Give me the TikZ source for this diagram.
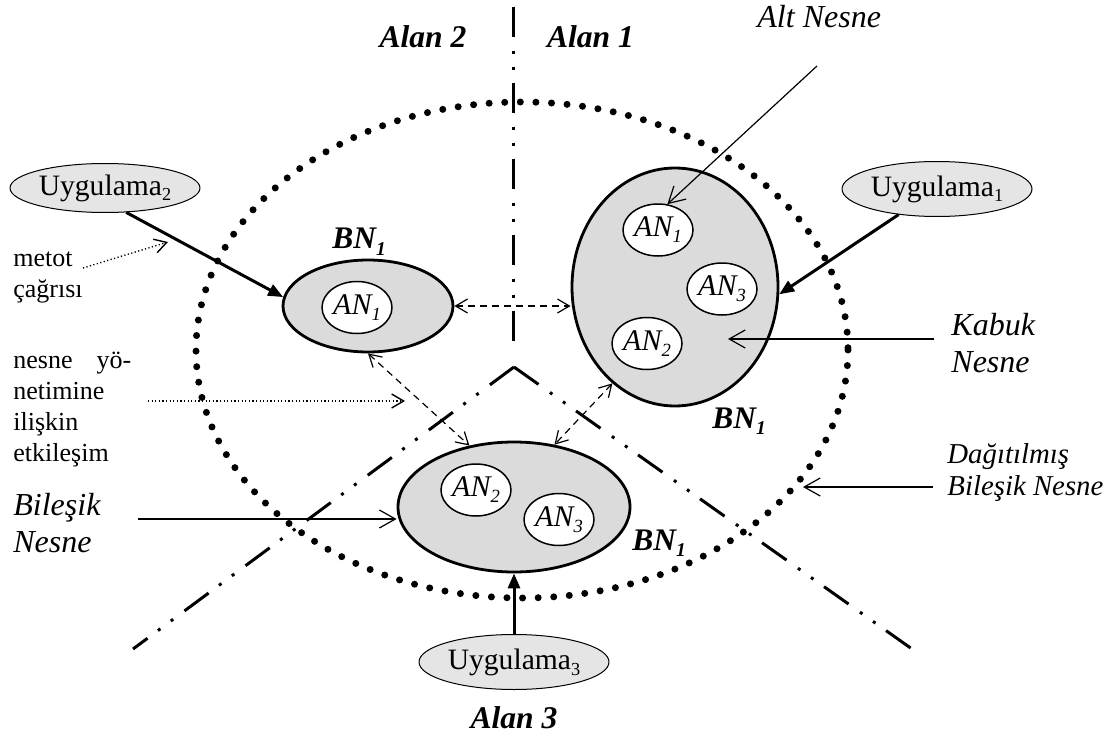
\documentclass[tikz,border=0pt]{standalone}
\usepackage{fontspec}
\setmainfont{Liberation Serif}
\usetikzlibrary{shapes.geometric,arrows.meta}
\definecolor{bngri}{gray}{0.86}
\definecolor{uyggri}{gray}{0.9}
\newcommand{\indis}[1]{\raisebox{-0.2em}{\scalebox{0.62}{#1}}}
\begin{document}
\begin{tikzpicture}[x=0.5pt,y=-0.5pt,line join=round]
	%%%%Stiller
	\tikzset{
		uygulama/.style={draw,ellipse,fill=uyggri,line width=0.5pt,inner sep=0pt,minimum width=95pt,font=\fontsize{14.8}{16}\selectfont},
		bilesik/.style={draw,ellipse,fill=bngri,line width=1.4pt,inner sep=0pt},
		altnesne/.style={draw,ellipse,fill=white,line width=0.75pt,inner sep=0pt,minimum width=35pt,minimum height=26pt,font=\fontsize{15}{16}\selectfont\itshape},
		alan/.style={font=\fontsize{15.8}{18}\selectfont\bfseries\itshape,anchor=base},
		bnyazi/.style={font=\fontsize{15.7}{18}\selectfont\bfseries\itshape,anchor=base west,inner sep=0pt},
		aciklama/.style={font=\fontsize{16}{18}\selectfont\itshape,anchor=base west,inner sep=0pt},
		dagitik/.style={font=\fontsize{14.4}{16}\selectfont\itshape,anchor=base west,inner sep=0pt},
		duzyazi/.style={font=\fontsize{13}{15}\selectfont,anchor=base west,inner sep=0pt},
		sinir/.style={line width=1.5pt,dash pattern=on 15pt off 7pt on 1.5pt off 6.5pt on 1.5pt off 6.5pt},
		noktali/.style={line width=3.5pt,line cap=round,dash pattern=on 0pt off 7.8pt},
		cagri/.style={line width=1.5pt,-{Triangle[length=7.5pt,width=6pt]}},
		gosterge/.style={line width=0.6pt,-{Straight Barb[length=8pt,width=9pt]}},
		etkilesim/.style={line width=0.6pt,dash pattern=on 3.5pt off 2.5pt,{Straight Barb[length=6pt,width=7pt]}-{Straight Barb[length=6pt,width=7pt]}},
		oklu/.style={line width=0.7pt,dash pattern=on 0.6pt off 1.2pt,-{Straight Barb[length=6pt,width=7pt]}}
	}
	\useasboundingbox (0,0) rectangle (1114,738);
	%%%%Dagitilmis bilesik nesne ve alan sinirlari
	\draw[noktali] (522,350) ellipse [x radius=326, y radius=248];
	\coordinate (tepe) at (514,367);
	\draw[sinir] (513,7) -- (513,342);
	\draw[sinir] (tepe) -- (133,649);
	\draw[sinir] (tepe) -- (912,649);
	%%%%Uygulamalar
	\node[uygulama,minimum height=24.5pt] (uyg2) at (105,188) {Uygulama\indis{2}};
	\node[uygulama,minimum height=27.5pt] (uyg1) at (937,189) {Uygulama\indis{1}};
	\node[uygulama,minimum height=27.5pt] (uyg3) at (514,662) {Uygulama\indis{3}};
	%%%%Bilesik nesneler
	\node[bilesik,minimum width=85pt,minimum height=46pt] (bn2) at (368,306) {};
	\node[bilesik,minimum width=103pt,minimum height=119pt] (bn1) at (675,287) {};
	\node[bilesik,minimum width=116pt,minimum height=65pt] (bn3) at (514,507) {};
	%%%%Alt nesneler
	\node[altnesne] (an21) at (357,307.5) {AN\indis{1}};
	\node[altnesne] (an11) at (658,230) {AN\indis{1}};
	\node[altnesne] (an13) at (722,289) {AN\indis{3}};
	\node[altnesne] (an12) at (647,343.5) {AN\indis{2}};
	\node[altnesne] (an32) at (476,490) {AN\indis{2}};
	\node[altnesne] (an33) at (559,519.5) {AN\indis{3}};
	%%%%Metot cagrilari
	\draw[cagri] (uyg2.-49) -- (bn2.174);
	\draw[cagri] (uyg1) -- (bn1.-4);
	\draw[cagri] (uyg3) -- (bn3);
	%%%%Etkilesimler
	\draw[etkilesim] (bn2.east) -- (bn2.east -| bn1.west);
	\draw[etkilesim] (bn2.south) -- (bn3.126);
	\draw[etkilesim] (bn1.237) -- (bn3.57);
	%%%%Yazilar
	\node[alan] (alan2) at (423,48) {Alan 2};
	\node[alan] (alan1) at (590.5,48) {Alan 1};
	\node[alan] (alan3) at (514,728) {Alan 3};
	\node[bnyazi] (bnyazi2) at (332,249) {BN\indis{1}};
	\node[bnyazi] (bnyazi1) at (712,428) {BN\indis{1}};
	\node[bnyazi] (bnyazi3) at (632,550) {BN\indis{1}};
	\node[aciklama] (altyazi) at (757,28) {Alt Nesne};
	\node[aciklama] (kabuk1) at (951,335) {Kabuk};
	\node[aciklama] (kabuk2) at (951,372) {Nesne};
	\node[aciklama] (bilesik1) at (13,515) {Bileşik};
	\node[aciklama] (bilesik2) at (13,552) {Nesne};
	\node[dagitik] (dagitik1) at (947,463) {Dağıtılmış};
	\node[dagitik] (dagitik2) at (947,495) {Bileşik Nesne};
	\node[duzyazi] (metot1) at (13,266) {metot};
	\node[duzyazi] (metot2) at (13,297) {çağrısı};
	\node[duzyazi] (yonetim1) at (13,368) {\makebox[59pt][s]{nesne yö-}};
	\node[duzyazi] (yonetim2) at (13,399) {netimine};
	\node[duzyazi] (yonetim3) at (13,430) {ilişkin};
	\node[duzyazi] (yonetim4) at (13,461) {etkileşim};
	%%%%Gosterge oklari
	\coordinate (altuc) at (817,66);
	\coordinate (kabukuc) at (934,339);
	\coordinate (kabukhedef) at (728,339);
	\coordinate (dagituc) at (933,487);
	\coordinate (dagithedef) at (803,487);
	\coordinate (biluc) at (138,519);
	\draw[gosterge] (altuc) -- (an11.70);
	\draw[gosterge] (kabukuc) -- (kabukhedef);
	\draw[gosterge] (dagituc) -- (dagithedef);
	\draw[gosterge] (biluc) -- (biluc -| bn3.west);
	\coordinate (metotuc) at (83,268);
	\coordinate (metothedef) at (168,242);
	\coordinate (nesneuc) at (148,401);
	\coordinate (nesnehedef) at (405,401);
	\draw[oklu] (metotuc) -- (metothedef);
	\draw[oklu] (nesneuc) -- (nesnehedef);
\end{tikzpicture}
\end{document}
